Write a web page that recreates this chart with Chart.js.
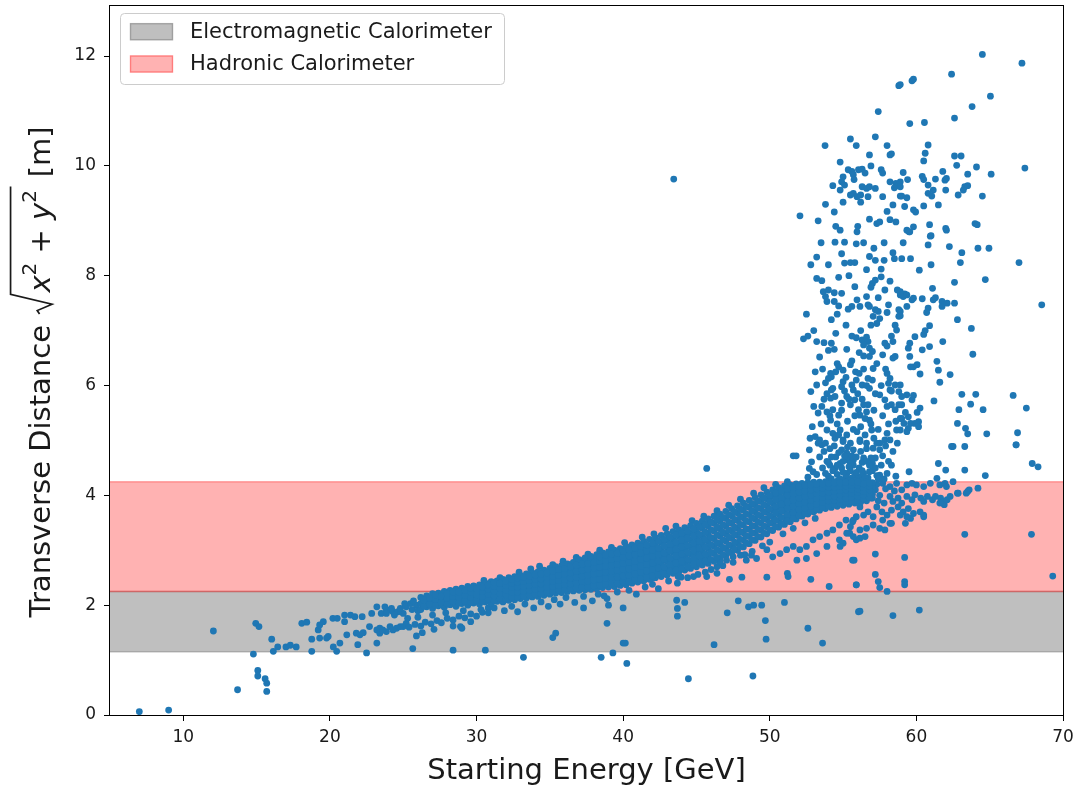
<!DOCTYPE html>
<html>
<head>
<meta charset="utf-8">
<script src="https://cdn.jsdelivr.net/npm/chart.js@4.4.1/dist/chart.umd.min.js"></script>
<style>
html,body{margin:0;padding:0;background:#fff;}
#wrap{position:relative;width:1080px;height:792px;}
</style>
</head>
<body>
<div id="wrap"><canvas id="c" width="1080" height="792"></canvas></div>
<script>
// Axis limits and tick labels
const xRange = [5, 70];
const yRange = [0, 12.93];
const xTicks = [10, 20, 30, 40, 50, 60, 70];
const yTicks = [0, 2, 4, 6, 8, 10, 12];

// Calorimeter radial extents [inner, outer] in metres
const emBand = [1.15, 2.25];
const hadBand = [2.25, 4.25];

// Low-energy tail of the distribution
const tailPoints = [
  [7.0,0.06],[9.0,0.09],[12.05,1.53],[13.7,0.46],[14.94,1.67],[15.16,1.61],[14.78,1.11],[15.08,0.81],[15.08,0.71],
  [15.58,0.66],[15.69,0.58],[15.69,0.43],[16.03,1.38],[16.14,1.16],[16.44,1.24],[17.0,1.24],[17.3,1.27],[17.7,1.24],
  [18.08,1.67],[18.42,1.69],[18.76,1.38],[18.76,1.16],[19.2,1.55],[19.3,1.64],[19.55,1.70],[19.3,1.40],[19.77,1.40],
  [19.88,1.43],[20.2,1.76],[20.5,1.76],[21.0,1.82],[21.0,1.70],[21.4,1.82],[21.7,1.79],[20.23,1.24],[20.46,1.16],
  [20.68,1.31],[21.15,1.46],[21.8,1.49],[22.05,1.46],[22.27,1.50],[21.9,1.28],[22.5,1.13],[22.2,1.79],[22.85,1.85],
  [23.2,1.97],[23.5,1.85],[23.85,1.91],[24.2,1.94],[24.3,1.88],[24.4,1.85],[22.7,1.61],[23.2,1.55],[23.4,1.49],
  [23.85,1.52],[24.55,1.58],[25.0,1.61],[23.2,1.31],[25.1,2.03],[23.4,1.58],[23.6,1.55],[24.1,1.61],[24.3,1.55],
  [24.8,1.61],[25.2,1.67],[25.3,1.76],[25.0,1.85],[24.65,1.88],[24.1,1.91],[23.75,1.97],[24.8,1.94],[25.2,1.97],
  [25.5,2.03],[23.85,1.85],[24.4,1.82],[25.6,1.92],[25.9,2.0],[25.7,2.08],[26.0,1.9]
];

// Secondary (lower) branch between 25 and 31 GeV
const lowBranch = [
  [25.4,1.6],[25.8,1.65],[26.2,1.62],[26.5,1.69],[26.9,1.66],[27.3,1.72],[27.6,1.68],[28.0,1.76],[28.4,1.73],
  [28.8,1.8],[29.2,1.77],[29.6,1.84],[30.0,1.8],[30.4,1.87],[26.3,1.5],[27.1,1.56],[28.4,1.62],[29.6,1.7],
  [25.65,1.21],[28.4,1.18],[30.6,1.18],[25.9,1.44],[28.9,1.61],[29.0,1.58],[26.0,1.78],[27.0,1.82],[27.9,1.86],
  [29.1,1.9],[30.8,1.95]
];

// Dense main band: each entry is [energy, distance, distance, ...]
const bandColumns = [
  [26.2,1.92,2.03,2.14],[26.6,1.97,2.08,2.17],[27.0,1.94,2.05,2.16,2.21],[27.4,1.99,2.1,2.22],
  [27.8,1.96,2.07,2.17,2.25],[28.2,2.01,2.12,2.2,2.27],[28.6,1.98,2.09,2.19,2.29],[29.0,2.03,2.13,2.22,2.31],
  [29.4,2.0,2.1,2.19,2.27,2.34],[29.8,2.04,2.14,2.24,2.35],[30.2,2.02,2.11,2.2,2.29,2.37],[30.6,2.06,2.15,2.24,2.33,2.4],
  [31.0,2.03,2.12,2.21,2.3,2.38,2.43],[31.4,2.07,2.16,2.25,2.35,2.44],[31.8,2.06,2.14,2.23,2.31,2.4,2.47],
  [32.2,2.09,2.18,2.27,2.36,2.44,2.5],[32.6,2.1,2.19,2.28,2.37,2.46,2.52],[33.0,2.12,2.21,2.3,2.39,2.47,2.54],
  [33.4,2.13,2.22,2.31,2.4,2.49,2.57],[33.8,2.15,2.24,2.33,2.42,2.51,2.59],[34.2,2.16,2.25,2.34,2.43,2.52,2.61],
  [34.6,2.18,2.27,2.36,2.45,2.54,2.64],[35.0,2.2,2.29,2.38,2.47,2.57,2.67],[35.4,2.22,2.31,2.4,2.5,2.6,2.7],
  [35.8,2.23,2.33,2.42,2.52,2.62,2.72],[36.2,2.25,2.34,2.44,2.54,2.64,2.75],[36.6,2.26,2.36,2.46,2.56,2.67,2.78],
  [37.0,2.27,2.37,2.48,2.58,2.69,2.8,2.83],[37.4,2.28,2.38,2.49,2.6,2.71,2.8,2.86],[37.8,2.29,2.4,2.51,2.62,2.73,2.83,2.89],
  [38.2,2.3,2.41,2.52,2.63,2.74,2.84,2.92],[38.6,2.32,2.43,2.54,2.65,2.76,2.86,2.95],[39.0,2.33,2.44,2.55,2.66,2.77,2.88,2.97],
  [39.4,2.34,2.45,2.57,2.68,2.79,2.9,3.0],[39.8,2.36,2.47,2.59,2.7,2.81,2.92,3.03],[40.2,2.37,2.48,2.6,2.72,2.84,2.95,3.07],
  [40.6,2.4,2.51,2.63,2.74,2.86,2.98,3.1],[41.0,2.42,2.54,2.65,2.77,2.89,3.01,3.13],[41.4,2.44,2.56,2.68,2.8,2.92,3.04,3.16],
  [41.8,2.47,2.59,2.71,2.83,2.95,3.07,3.2],[42.2,2.5,2.62,2.74,2.86,2.98,3.1,3.23],[42.6,2.52,2.64,2.76,2.89,3.01,3.14,3.27],
  [43.0,2.55,2.67,2.8,2.92,3.05,3.18,3.3],[43.4,2.58,2.7,2.83,2.96,3.08,3.21,3.34],[43.8,2.61,2.73,2.86,2.99,3.12,3.25,3.37],
  [44.2,2.64,2.76,2.89,3.02,3.15,3.28,3.41],[44.6,2.67,2.8,2.93,3.06,3.19,3.32,3.45],[45.0,2.7,2.83,2.96,3.09,3.22,3.36,3.49],
  [45.4,2.73,2.86,2.99,3.13,3.26,3.4,3.53],[45.8,2.76,2.89,3.03,3.16,3.3,3.44,3.57],[46.2,2.8,2.94,3.07,3.21,3.35,3.49,3.62],
  [46.6,2.85,2.98,3.12,3.26,3.39,3.53,3.66],[47.0,2.9,3.03,3.17,3.3,3.44,3.58,3.71],[47.4,2.95,3.08,3.22,3.35,3.49,3.63,3.76],
  [47.8,3.0,3.13,3.27,3.4,3.54,3.68,3.81],[48.2,3.06,3.19,3.32,3.46,3.59,3.73,3.86],[48.6,3.12,3.25,3.38,3.52,3.65,3.78,3.91],
  [49.0,3.18,3.31,3.44,3.57,3.7,3.83,3.96],[49.4,3.24,3.37,3.5,3.63,3.76,3.89,4.01],[49.8,3.3,3.43,3.56,3.69,3.81,3.94,4.06],
  [50.2,3.36,3.49,3.61,3.74,3.86,3.98,4.1],[50.6,3.42,3.54,3.66,3.78,3.9,4.02,4.14],[51.0,3.47,3.59,3.71,3.82,3.94,4.06,4.17],
  [51.4,3.52,3.63,3.75,3.86,3.97,4.08,4.19],[51.8,3.57,3.68,3.79,3.9,4.0,4.11,4.21],[52.2,3.62,3.72,3.82,3.93,4.03,4.13,4.22],
  [52.6,3.66,3.76,3.86,3.96,4.05,4.14,4.23],[53.0,3.7,3.79,3.89,3.98,4.07,4.16,4.24],[53.4,3.73,3.82,3.91,4.0,4.08,4.17,4.24],
  [53.8,3.76,3.85,3.94,4.02,4.1,4.18,4.25],[54.2,3.78,3.87,3.95,4.03,4.11,4.19,4.25],[54.6,3.8,3.88,3.96,4.04,4.12,4.2,4.26],
  [55.0,3.82,3.9,3.98,4.06,4.13,4.2,4.27],[55.4,3.84,3.92,4.0,4.07,4.14,4.21,4.27],[55.8,3.86,3.94,4.01,4.08,4.15,4.21,4.27],
  [56.2,3.88,3.95,4.02,4.09,4.16,4.22,4.26],[56.6,3.9,3.97,4.04,4.11,4.18,4.25],[57.0,3.95,4.02,4.09,4.16,4.23]
];

// Events lying between the columns above
const bandColumnsB = [
  [26.4,1.98,2.09],[26.8,2.02,2.13],[27.2,2.0,2.11,2.19],[27.6,2.05,2.16],[28.0,2.02,2.12,2.21],[28.4,2.07,2.16,2.24],
  [28.8,2.04,2.14,2.24],[29.2,2.08,2.18,2.27],[29.6,2.05,2.15,2.23,2.31],[30.0,2.09,2.19,2.3],[30.4,2.07,2.16,2.25,2.33],
  [30.8,2.11,2.2,2.29,2.37],[31.2,2.08,2.17,2.26,2.34,2.41],[31.6,2.12,2.21,2.3,2.4],[32.0,2.1,2.19,2.27,2.36,2.44],
  [32.4,2.14,2.23,2.32,2.4,2.47],[32.8,2.15,2.24,2.33,2.42,2.49],[33.2,2.17,2.26,2.35,2.43,2.51],[33.6,2.18,2.27,2.36,2.45,2.53],
  [34.0,2.2,2.29,2.38,2.47,2.55],[34.4,2.21,2.3,2.39,2.48,2.57],[34.8,2.23,2.32,2.41,2.5,2.59],[35.2,2.25,2.34,2.43,2.52,2.62],
  [35.6,2.27,2.36,2.45,2.55,2.65],[36.0,2.28,2.38,2.47,2.57,2.67],[36.4,2.3,2.39,2.49,2.59,2.7],[36.8,2.31,2.41,2.51,2.62,2.73],
  [37.2,2.32,2.43,2.53,2.64,2.75],[37.6,2.33,2.44,2.55,2.66,2.76],[38.0,2.35,2.46,2.57,2.68,2.78],[38.4,2.36,2.47,2.58,2.69,2.8,2.88],
  [38.8,2.38,2.49,2.6,2.71,2.81,2.91],[39.2,2.39,2.5,2.61,2.72,2.83,2.93],[39.6,2.4,2.51,2.63,2.74,2.85,2.95],
  [40.0,2.42,2.53,2.65,2.76,2.87,2.98],[40.4,2.43,2.54,2.66,2.78,2.9,3.01],[40.8,2.46,2.57,2.69,2.8,2.92,3.04],
  [41.2,2.48,2.6,2.71,2.83,2.95,3.07],[41.6,2.5,2.62,2.74,2.86,2.98,3.1],[42.0,2.53,2.65,2.77,2.89,3.01,3.13],
  [42.4,2.56,2.68,2.8,2.92,3.04,3.17],[42.8,2.58,2.7,2.83,2.95,3.08,3.2],[43.2,2.61,2.74,2.86,2.99,3.11,3.24],
  [43.6,2.64,2.77,2.9,3.02,3.15,3.28],[44.0,2.67,2.8,2.93,3.06,3.19,3.31],[44.4,2.7,2.83,2.96,3.09,3.22,3.35],
  [44.8,2.74,2.87,3.0,3.13,3.26,3.39],[45.2,2.77,2.9,3.03,3.16,3.29,3.43],[45.6,2.8,2.93,3.06,3.2,3.33,3.47],
  [46.0,2.83,2.96,3.1,3.23,3.37,3.51],[46.4,2.87,3.01,3.14,3.28,3.42,3.56],[46.8,2.92,3.05,3.19,3.33,3.46,3.6],
  [47.2,2.97,3.1,3.24,3.37,3.51,3.65],[47.6,3.02,3.15,3.29,3.42,3.56,3.7],[48.0,3.07,3.2,3.34,3.47,3.61,3.75],
  [48.4,3.13,3.26,3.39,3.53,3.66,3.8],[48.8,3.19,3.32,3.45,3.59,3.72,3.85],[49.2,3.25,3.38,3.51,3.64,3.77,3.9],
  [49.6,3.31,3.44,3.57,3.7,3.83,3.96],[50.0,3.37,3.5,3.63,3.75,3.88,4.0],[50.4,3.43,3.55,3.68,3.8,3.92,4.04],
  [50.8,3.48,3.6,3.72,3.84,3.96,4.08],[51.2,3.53,3.65,3.77,3.88,4.0,4.12],[51.6,3.58,3.69,3.81,3.92,4.03,4.14],
  [52.0,3.63,3.74,3.85,3.95,4.06,4.16],[52.4,3.67,3.77,3.88,3.98,4.08,4.18],[52.8,3.71,3.81,3.91,4.01,4.1,4.19],
  [53.2,3.75,3.84,3.94,4.03,4.12,4.2],[53.6,3.78,3.87,3.96,4.04,4.13,4.21],[54.0,3.81,3.9,3.98,4.06,4.15,4.22],
  [54.4,3.83,3.91,3.99,4.07,4.15,4.23],[54.8,3.85,3.93,4.01,4.09,4.16,4.23],[55.2,3.87,3.95,4.03,4.1,4.17,4.24],
  [55.6,3.89,3.97,4.04,4.11,4.18,4.24],[56.0,3.91,3.98,4.05,4.12,4.19,4.24],[56.4,3.93,4.0,4.07,4.14,4.21],
  [56.8,3.96,4.03,4.1,4.17,4.23]
];

// Scattered events along the upper and lower edges of the main band
const bandEdge = [
  [30.5,2.45],[31.6,2.5],[32.9,2.6],[33.7,2.66],[34.3,2.71],[35.2,2.74],[35.9,2.8],[36.8,2.87],[37.6,2.93],[38.4,3.0],
  [39.2,3.05],[40.1,3.14],[41.3,3.24],[42.1,3.3],[42.9,3.4],[43.6,3.44],[44.7,3.54],[45.5,3.62],[46.4,3.72],[47.2,3.82],
  [48.0,3.93],[48.9,4.04],[49.6,4.14],[50.4,4.2],[51.2,4.25],
  [30.3,1.92],[30.8,1.86],[31.2,1.95],[31.9,1.9],[32.4,1.98],[32.8,1.88],[33.3,2.02],[33.9,1.95],[34.4,2.06],[34.9,1.98],
  [35.3,2.1],[35.7,2.02],[36.1,2.14],[36.7,2.05],[37.3,2.16],[37.9,2.08],[38.3,2.2],[38.9,2.12],[39.6,2.24],[40.4,2.27],
  [40.9,2.2],[41.5,2.33],[42.0,2.38],[42.4,2.3],[43.1,2.44],[43.7,2.4],[44.4,2.5],[45.1,2.56],[45.6,2.6],[46.0,2.65],
  [46.8,2.72],[47.5,2.78],[48.3,2.92],[48.8,2.98],[49.5,3.08],[50.0,3.15],[50.9,3.3],[51.6,3.4],[52.4,3.5],[53.1,3.58],
  [41.6,2.52],[41.95,2.49],[43.75,2.52],[43.95,2.51],[44.8,2.52],[45.7,2.52],[46.4,2.58],[47.25,2.47],[48.1,2.51],
  [49.8,2.51],[51.2,2.58],[51.25,2.52],[52.8,2.47],[54.05,2.34],[55.9,2.37],[55.65,2.82]
];

// Second branch of late-starting showers above 45 GeV
const upperBranch = [
  [46.4,2.7],[46.6,2.79],[47.05,2.82],[47.5,2.88],[48.0,2.91],[48.4,2.82],[48.75,2.91],[49.1,2.85],[49.8,3.01],
  [50.2,2.88],[50.7,2.94],[51.15,3.01],[51.6,3.07],[52.05,3.01],[52.5,3.07],[52.95,3.19],[53.4,3.25],[53.9,3.31],
  [54.3,3.37],[54.75,3.46],[55.2,3.55],[55.65,3.52],[55.9,3.61],[51.85,2.82],[52.5,2.85],[53.2,2.94],[53.9,3.07],
  [54.75,3.19],[55.45,3.31],[55.9,3.19],
  [57.3,3.79],[57.65,3.7],[58.0,3.64],[58.3,3.73],[58.75,3.79],[59.1,3.7],[59.45,3.76],[59.8,3.67],[60.25,3.7],
  [60.5,3.61],[59.6,3.58],[58.9,3.64],[59.25,3.49],[57.7,3.55],[57.05,3.61],[56.7,3.7],[56.15,3.79],[56.4,3.64],
  [55.7,3.55],[55.5,3.43],[56.15,3.37],[56.6,3.4],[57.05,3.46],[57.5,3.4],[57.85,3.37],[58.3,3.49],[55.7,3.25],
  [56.15,3.22],[56.5,3.25],[55.0,3.13],[55.25,3.31],[54.8,3.07],
  [57.7,4.22],[58.2,4.16],[58.65,4.22],[59.35,4.19],[59.7,4.22],[60.0,4.19],[60.5,4.16],[60.95,4.22],[61.4,4.31],
  [61.6,4.19],[61.95,4.22],[62.05,4.16],[62.5,4.25],[62.8,4.04],[63.4,4.04],[63.6,4.1],[64.2,4.13],
  [58.2,3.98],[58.4,3.89],[58.75,3.95],[59.0,3.86],[59.35,3.98],[59.7,3.92],[59.9,4.01],[60.3,3.95],[60.5,3.89],
  [60.75,3.98],[61.1,3.92],[61.3,3.98],[61.65,3.95],[61.8,3.89],[61.9,3.83],[62.1,3.92],
  [58.2,3.49],[59.35,3.61],[60.5,3.64],[61.6,3.86],[62.3,3.98],[62.85,4.04],[63.5,4.07],
  [57.2,4.1],[57.5,4.0],[57.9,4.12],[57.4,3.9],[57.8,3.86],[58.5,4.08],[59.0,4.1],[56.9,3.95],[57.3,4.2]
];

// Isolated events below the main band
const strayPoints = [
  [33.2,1.05],[38.5,1.05],[39.3,1.13],[40.25,0.94],[40.0,1.31],[40.15,1.31],[35.2,1.41],[35.4,1.49],[38.9,1.67],
  [37.3,1.95],[39.0,2.0],[40.0,1.95],[38.7,2.17],[43.65,2.09],[43.7,1.94],[43.7,1.8],[44.2,2.05],[46.2,1.28],
  [47.1,1.86],[47.85,2.08],[48.55,1.97],[48.9,2.0],[49.45,2.0],[49.7,1.72],[49.75,1.38],[51.0,2.05],[52.6,1.58],
  [53.6,1.31],[56.05,1.88],[44.45,0.66],[48.85,0.71],[55.75,2.82],[57.2,2.93],[59.2,2.87],[57.2,2.56],[57.4,2.43],
  [57.5,2.32],[58.0,2.25],[59.2,2.43],[59.2,2.37],[55.9,2.37],[56.15,1.89],[58.4,1.81],[60.2,1.91],[63.3,3.29],
  [67.85,3.29],[69.3,2.53],[45.7,4.49],[43.45,9.76]
];

// Events reaching beyond the hadronic calorimeter
const cloudPoints = [
  [52.06,9.09],[53.77,10.37],[55.5,10.49],[55.9,10.37],[57.4,10.99],[57.2,10.53],[58.8,11.46],[59.7,11.55],[59.8,11.58],
  [59.55,10.77],[58.0,10.37],[58.3,10.22],[58.2,10.2],[56.8,10.2],[54.8,10.07],[56.9,10.0],[55.35,9.93],[55.6,9.9],
  [56.05,9.93],[56.3,9.94],[56.5,9.87],[55.0,9.8],[54.9,9.71],[55.1,9.65],[55.7,9.84],[55.75,9.75],[54.3,9.64],
  [54.8,9.56],[57.6,9.93],[57.7,9.87],[59.1,9.88],[59.4,9.75],[58.2,9.71],[58.6,9.68],[58.8,9.64],[58.9,9.71],
  [56.3,9.62],[56.6,9.59],[56.8,9.62],[57.2,9.59],[55.5,9.47],[55.7,9.5],[55.95,9.44],[56.2,9.47],[56.7,9.44],
  [55.0,9.34],[56.2,9.34],[57.7,9.44],[58.4,9.29],[59.2,9.26],[58.9,9.45],[54.4,9.16],[54.8,8.83],[55.95,8.8],
  [56.8,9.03],[57.3,8.95],[57.5,8.98],[58.0,9.17],[58.2,9.02],[58.6,8.98],[59.35,8.83],[59.5,8.8],[59.8,8.89],
  [59.95,9.16],
  [58.9,11.48],[62.4,11.67],[64.5,12.03],[67.2,11.87],[63.8,11.08],[65.05,11.27],[62.6,10.87],[60.55,10.79],
  [60.8,10.38],[60.6,10.23],[60.5,10.09],[62.6,10.18],[63.05,10.18],[62.75,10.01],[64.1,9.98],[65.1,9.85],[67.4,9.96],
  [60.4,9.81],[60.5,9.75],[61.3,9.76],[61.8,9.9],[61.95,9.74],[62.05,9.77],[63.5,9.85],[58.9,9.62],[59.0,9.45],
  [59.35,9.42],[60.8,9.65],[61.15,9.56],[60.8,9.5],[61.05,9.45],[62.0,9.56],[63.3,9.62],[63.5,9.64],[63.2,9.56],
  [62.85,9.47],[64.5,9.45],[59.8,9.2],[60.5,9.27],[61.5,9.29],[60.9,8.93],[61.0,8.73],[62.0,8.86],[64.0,8.95],
  [64.15,8.93],
  [54.45,8.61],[55.1,8.61],[55.9,8.58],[53.2,8.34],[55.1,8.23],[55.5,8.24],[55.8,8.24],[56.8,8.35],[57.2,8.28],
  [57.8,8.28],[58.4,8.42],[58.5,8.31],[59.0,8.31],[59.6,8.31],[56.6,8.11],[57.6,8.12],[57.6,7.98],[53.2,7.95],
  [53.55,7.91],[54.7,7.97],[57.0,7.86],[57.2,7.92],[56.9,7.79],[57.85,7.74],[58.7,7.74],[58.9,7.65],[59.2,7.67],
  [59.7,7.56],[53.65,7.71],[54.0,7.74],[54.4,7.69],[54.9,7.68],[53.8,7.62],[53.9,7.53],[54.4,7.53],[54.7,7.45],
  [55.35,7.39],[55.6,7.44],[55.95,7.56],[56.15,7.44],[56.6,7.62],[56.7,7.47],[56.8,7.44],[57.2,7.38],[57.05,7.26],
  [57.4,7.35],[57.5,7.22],[57.3,7.13],[58.0,7.33],[58.1,7.47],[58.8,7.38],[58.8,7.26],[59.35,7.44],[59.8,7.59],
  [58.55,7.1],[58.65,7.01],[52.3,6.85],[52.6,6.9],[53.2,6.8],[53.7,6.78],[54.2,6.77],[54.5,6.95],[55.9,6.87],
  [56.3,6.83],[56.6,6.88],[56.7,6.8],[56.4,6.74],[56.8,6.68],[57.0,6.62],[56.4,6.54],[56.8,6.53],[54.0,6.64],
  [54.4,6.66],[55.25,6.66],[53.4,6.52],[57.85,6.77],[58.0,6.72],[58.4,6.8],[57.7,6.56],[58.55,6.53],[59.45,6.68],
  [59.55,6.53],[59.9,6.89],[59.8,6.34],[54.6,6.4],[54.7,6.34],[55.0,6.28],[55.85,6.25],[56.1,6.22],[55.5,6.38],
  [54.15,6.22],[54.2,6.16],[54.0,6.13],[55.0,6.07],[54.9,5.98],[55.6,6.01],[55.7,5.92],[56.3,6.01],[56.8,5.95],
  [57.05,6.31],[56.7,6.13],[58.0,6.22],[58.2,6.13],[58.1,6.04],[58.55,6.01],[58.8,5.89],[58.2,5.92],[52.8,5.89],
  [53.2,6.01],[54.2,5.92],[54.45,5.8],[54.15,5.77],[53.0,5.62],[53.55,5.62],[53.9,5.52],[54.3,5.56],[54.7,5.46],
  [54.15,5.37],[54.9,5.68],[55.25,5.8],[55.5,5.65],[55.8,5.74],[56.05,5.56],[56.4,5.65],[56.15,5.46],[56.6,5.52],
  [56.8,5.37],[57.5,5.83],[57.85,5.74],[58.0,5.62],[58.3,5.65],[58.55,5.56],[58.8,5.65],[59.35,5.83],[59.7,5.74],
  [59.45,5.43],[58.9,5.4],[58.65,5.19],[59.45,5.22],[59.9,5.31],[52.75,5.04],[53.1,5.07],[53.3,4.95],[53.55,4.92],
  [53.9,5.19],[54.3,5.13],[54.45,5.04],[54.8,5.19],[55.0,5.01],[55.25,5.1],[55.5,4.95],[55.95,5.16],[56.15,5.01],
  [56.5,5.1],[56.6,4.95],[56.95,5.19],[57.1,5.04],[57.5,4.95],[57.85,5.01],[58.0,5.13],
  [59.55,8.8],[60.95,8.72],[62.05,8.83],[60.8,8.56],[62.25,8.53],[63.1,8.42],[64.2,8.5],[64.95,8.5],[63.0,8.24],
  [67.0,8.24],[62.6,7.88],[64.7,7.93],[61.1,7.77],[58.9,7.71],[59.1,7.62],[59.35,7.65],[60.4,7.58],[61.15,7.56],
  [61.3,7.6],[61.75,7.53],[61.75,7.44],[62.1,7.5],[62.6,7.5],[60.8,7.41],[60.7,7.33],[58.9,7.35],[58.9,7.27],
  [68.55,7.47],[60.9,7.09],[60.5,6.93],[59.55,6.77],[60.4,6.65],[60.9,6.71],[59.6,6.34],[60.05,6.38],[60.25,6.21],
  [61.4,6.44],[61.5,6.28],[61.6,6.06],[63.75,7.04],[63.85,6.57],[58.9,6.01],[59.0,5.8],[59.8,5.82],[59.0,5.65],
  [59.25,5.51],[60.05,5.51],[60.25,5.59],[59.0,5.4],[59.15,5.31],[60.15,5.34],[60.15,5.25],[59.35,5.16],[59.6,5.31],
  [58.9,5.19],[61.2,5.72],[62.9,5.56],[62.8,5.31],[63.35,5.22],[63.5,5.12],[63.1,5.84],[64.05,5.84],[63.7,5.66],
  [64.55,5.56],[64.8,5.12],[66.6,5.82],[67.5,5.59],[66.9,5.14],[66.8,4.92],[62.5,4.89],[63.3,4.89],
  [62.4,4.89],[66.8,4.92],[67.9,4.58],[68.3,4.52],[61.5,4.58],[62.0,4.46],[63.3,4.46],[64.7,4.36],[59.5,4.43],
  [51.6,4.72],[51.8,4.72],[52.7,4.83],[52.85,4.61],[52.7,4.49],[52.95,4.43],[53.4,5.01],[53.8,4.95],[54.1,4.55],
  [54.45,4.49],[54.8,4.58],[55.25,4.74],[55.35,4.64],[55.7,4.83],[54.9,4.83],[55.0,4.98],[56.15,4.98],[57.05,4.86],
  [57.5,4.83],[57.2,4.68],[55.25,4.77],[55.7,4.64],[56.4,4.68],[55.7,4.55],[56.8,4.43],[56.15,4.34],[57.5,4.37],
  [58.2,5.01],[55.25,4.4],
  [54.0,4.35],[54.3,4.45],[54.6,4.38],[54.9,4.5],[55.2,4.33],[55.5,4.45],[55.8,4.36],[56.1,4.5],[56.4,4.4],
  [56.7,4.32],[57.0,4.45],[57.3,4.36],[55.0,4.62],[55.6,4.72],[56.3,4.6],[56.9,4.68],[57.6,4.55],[54.5,4.7],
  [53.6,4.5],[53.2,4.38],[52.6,4.33],[58.0,4.4],[56.6,4.85],[55.3,4.88],[57.9,4.9],[54.1,4.85],[53.9,4.62],
  [53.5,5.3],[53.7,5.75],[53.8,6.05],[53.6,6.3],[53.9,5.85],[54.1,5.45],[54.3,5.95],[54.5,6.25],[54.6,5.3],
  [54.7,5.1],[54.9,5.55],[55.1,5.9],[55.2,6.15],[55.3,5.35],[55.4,5.75],[55.6,6.45],[55.7,5.2],[55.8,5.45],
  [55.9,6.1],[56.0,5.85],[56.1,6.6],[56.2,5.25],[56.3,5.75],[56.4,6.3],[56.5,5.4],[56.6,6.0],[56.7,5.65],
  [56.9,5.3],[57.0,6.1],[57.1,5.55],[57.2,5.85],[57.3,6.4],[57.4,5.2],[57.6,6.0],[57.7,5.45],[57.9,6.3],
  [58.1,5.3],[58.3,5.9],[58.4,6.5],[58.6,5.35],[53.3,5.5],[53.1,6.25],[52.9,5.25],[53.4,4.7],[53.7,4.8],
  [54.2,4.7],[54.4,4.9],[54.7,4.78],[55.1,4.72],[55.5,4.58],[55.9,4.7],[56.2,4.8],[56.6,4.62],[57.0,4.58],
  [57.3,4.95],[57.7,4.72],[58.1,4.62],[58.4,4.8],[58.7,4.95],[54.0,4.6],[54.6,4.55],[55.0,4.42],[55.4,4.52],
  [55.9,4.42],[56.3,4.45],[56.8,4.55],[57.2,4.5],[57.8,4.3],[58.3,4.55],[53.8,4.4],[54.2,4.3],[54.8,4.3],
  [55.6,4.32],[56.5,4.32],[57.4,4.3],[58.6,4.35],
  [52.5,7.3],[52.8,8.2],[53.0,7.0],[53.3,9.0],[53.5,8.6],[53.8,9.3],[54.0,8.2],[54.2,7.2],[54.5,8.9],[54.6,7.3],
  [54.9,8.4],[55.2,7.1],[55.4,8.0],[55.6,6.9],[55.8,7.8],[56.0,8.9],[56.2,7.0],[56.4,8.6],[56.9,7.1],[57.1,8.5],
  [57.4,7.6],[57.8,8.6],[58.2,7.9],[58.5,9.6],[58.3,6.9],[59.1,8.6],[60.2,8.1],[61.0,8.2],[60.6,7.0],[61.8,6.8],
  [62.3,6.2],[62.8,7.2]
];

const Y_TITLE = {
  lead: 'Transverse Distance ',
  radicand: [['x', 'it'], ['2', 'sup'], [' + ', 'rm'], ['y', 'it'], ['2', 'sup']],
  tail: ' [m]'
};
const X_TITLE = 'Starting Energy [GeV]';
const legendEntries = [
  { label: 'Electromagnetic Calorimeter', fill: 'rgba(128,128,128,0.5)', edge: 'rgba(128,128,128,0.5)' },
  { label: 'Hadronic Calorimeter', fill: 'rgba(255,0,0,0.3)', edge: 'rgba(255,0,0,0.3)' }
];

const FAMILY = "'DejaVu Sans', 'Liberation Sans', sans-serif";
const TEXT = '#1a1a1a';

// Assemble the scatter points
const scatterData = [];
[tailPoints, lowBranch, bandEdge, upperBranch, strayPoints, cloudPoints].forEach(list =>
  list.forEach(([x, y]) => scatterData.push({ x, y })));
[bandColumns, bandColumnsB].forEach(cols => cols.forEach(col => {
  for (let i = 1; i < col.length; i++) scatterData.push({ x: col[0], y: col[i] });
}));

function hLine(y) { return [{ x: xRange[0], y }, { x: xRange[1], y }]; }

// Box round the plotting area
const framePlugin = {
  id: 'frame',
  afterDatasetsDraw(chart) {
    const { ctx, chartArea: a } = chart;
    ctx.save();
    ctx.strokeStyle = '#000';
    ctx.lineWidth = 1;
    ctx.strokeRect(Math.round(a.left) - 0.5, Math.round(a.top) + 0.5,
      Math.round(a.right - a.left) + 1, Math.round(a.bottom - a.top));
    ctx.restore();
  }
};

// Vertical axis title with a square-root expression
const yTitlePlugin = {
  id: 'yTitle',
  afterDraw(chart) {
    const ctx = chart.ctx, fs = 29;
    const fonts = { rm: `${fs}px ${FAMILY}`, it: `italic ${fs}px ${FAMILY}`, sup: `${Math.round(fs * 0.7)}px ${FAMILY}` };
    const w = (t, f) => { ctx.font = fonts[f]; return ctx.measureText(t).width; };
    ctx.save();
    const leadW = w(Y_TITLE.lead, 'rm');
    const radW = 0.8 * fs;
    const radicandW = Y_TITLE.radicand.reduce((s, [t, f]) => s + w(t, f), 0);
    const tailW = w(Y_TITLE.tail, 'rm');
    const total = leadW + radW + radicandW + 0.12 * fs + tailW;
    const a = chart.chartArea;
    const cy = (a.top + a.bottom) / 2 + 12;
    ctx.translate(50, cy + total / 2);
    ctx.rotate(-Math.PI / 2);
    ctx.fillStyle = TEXT;
    ctx.strokeStyle = TEXT;
    ctx.textBaseline = 'alphabetic';
    ctx.textAlign = 'left';
    let u = 0;
    ctx.font = fonts.rm;
    ctx.fillText(Y_TITLE.lead, u, 0);
    u += leadW;
    const top = -1.36 * fs;
    ctx.lineWidth = 1.7;
    ctx.lineJoin = 'miter';
    ctx.beginPath();
    ctx.moveTo(u + 0.06 * fs, -0.36 * fs);
    ctx.lineTo(u + 0.18 * fs, -0.44 * fs);
    ctx.lineTo(u + 0.4 * fs, 0.07 * fs);
    ctx.lineTo(u + 0.74 * fs, top);
    let ru = u + radW;
    for (const [t, f] of Y_TITLE.radicand) {
      ctx.font = fonts[f];
      ctx.fillText(t, ru, f === 'sup' ? -0.5 * fs : 0);
      ru += ctx.measureText(t).width;
    }
    ctx.lineTo(ru + 0.12 * fs, top);
    ctx.stroke();
    u = ru + 0.12 * fs;
    ctx.font = fonts.rm;
    ctx.fillText(Y_TITLE.tail, u, 0);
    ctx.restore();
  }
};

// Legend drawn in the upper-left corner of the axes
const legendPlugin = {
  id: 'caloLegend',
  afterDraw(chart) {
    const ctx = chart.ctx;
    ctx.save();
    ctx.beginPath();
    ctx.roundRect(120.5, 13.5, 384, 71, 4);
    ctx.fillStyle = 'rgba(255,255,255,0.8)';
    ctx.fill();
    ctx.strokeStyle = '#cccccc';
    ctx.lineWidth = 1;
    ctx.stroke();
    legendEntries.forEach((e, i) => {
      const cy = 31.7 + i * 32.3;
      ctx.fillStyle = e.fill;
      ctx.fillRect(130, cy - 8.5, 43, 17);
      ctx.strokeStyle = e.edge;
      ctx.lineWidth = 1.5;
      ctx.strokeRect(130.5, cy - 8, 42, 16);
      ctx.fillStyle = TEXT;
      ctx.font = `21px ${FAMILY}`;
      ctx.textBaseline = 'middle';
      ctx.textAlign = 'left';
      ctx.fillText(e.label, 190, cy + 1);
    });
    ctx.restore();
  }
};

function bandSet(label, y, colour, fill, order) {
  return {
    type: 'line', label, data: hLine(y), borderColor: colour, backgroundColor: colour,
    borderWidth: 1.5, pointRadius: 0, pointHoverRadius: 0, fill, order, tension: 0
  };
}

new Chart(document.getElementById('c'), {
  type: 'scatter',
  data: {
    datasets: [
      { label: 'events', data: scatterData, backgroundColor: '#1f77b4', borderWidth: 0,
        pointRadius: 3.4, pointHoverRadius: 3.4, order: 0 },
      bandSet('ECAL inner', emBand[0], 'rgba(128,128,128,0.5)', false, 4),
      bandSet(legendEntries[0].label, emBand[1], 'rgba(128,128,128,0.5)', '-1', 3),
      bandSet('HCAL inner', hadBand[0], 'rgba(255,0,0,0.3)', false, 2),
      bandSet(legendEntries[1].label, hadBand[1], 'rgba(255,0,0,0.3)', '-1', 1)
    ]
  },
  options: {
    responsive: false,
    animation: false,
    devicePixelRatio: 1,
    layout: { padding: { left: 0, right: 17, top: 5, bottom: 0 } },
    plugins: { legend: { display: false }, tooltip: { enabled: false } },
    scales: {
      x: {
        type: 'linear', min: xRange[0], max: xRange[1],
        afterBuildTicks: s => { s.ticks = xTicks.map(v => ({ value: v })); },
        afterFit: s => { s.height = 77; s.paddingLeft = 0; s.paddingRight = 0; },
        grid: { display: true, drawOnChartArea: false, drawTicks: true, tickLength: 6, color: '#000', lineWidth: 1 },
        border: { display: false },
        ticks: { font: { family: FAMILY, size: 17 }, color: TEXT, padding: 6, maxRotation: 0 },
        title: { display: true, text: X_TITLE, font: { family: FAMILY, size: 29 }, color: TEXT, padding: { top: 0, bottom: 3 } }
      },
      y: {
        type: 'linear', min: yRange[0], max: yRange[1],
        afterBuildTicks: s => { s.ticks = yTicks.map(v => ({ value: v })); },
        afterFit: s => { s.width = 110; s.paddingTop = 0; s.paddingBottom = 0; },
        grid: { display: true, drawOnChartArea: false, drawTicks: true, tickLength: 6, color: '#000', lineWidth: 1 },
        border: { display: false },
        ticks: { font: { family: FAMILY, size: 17 }, color: TEXT, padding: 8 },
        title: { display: false }
      }
    }
  },
  plugins: [framePlugin, yTitlePlugin, legendPlugin]
});
</script>
</body>
</html>
